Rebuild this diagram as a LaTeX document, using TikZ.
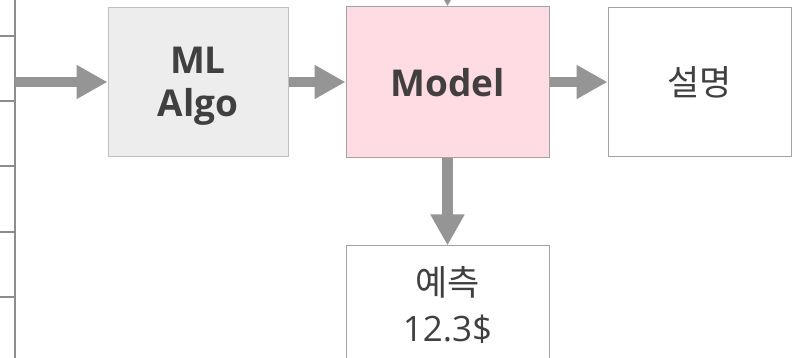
\documentclass[tikz,border=0pt]{standalone}
\usepackage{fontspec}
\setmainfont{Open Sans}
\newfontfamily\krfont{Noto Sans CJK KR}
\usetikzlibrary{arrows.meta}
\definecolor{inkgrey}{HTML}{404040}
\definecolor{flowgrey}{HTML}{959595}
\definecolor{algofill}{HTML}{EDEDED}
\definecolor{algoline}{HTML}{BFBFBF}
\definecolor{modelfill}{HTML}{FFDCE3}
\definecolor{boxline}{HTML}{A3A3A3}
\definecolor{gridline}{HTML}{8C8C8C}
\begin{document}
\begin{tikzpicture}[x=1pt,y=-1pt,
  box/.style={draw=boxline, line width=1pt, inner sep=0pt, text=inkgrey, align=center},
  flow/.style={draw=flowgrey, line width=10.5pt, -{Triangle[length=31pt,width=32pt]}},
  grid/.style={draw=gridline, line width=1.2pt}]
\useasboundingbox (0,0) rectangle (793,358);
\clip (0,0) rectangle (793,358);

% table edge on the left
\draw[grid] (15,0) -- (15,358);
\foreach \yy in {36,101,166,232,297}
  \draw[grid] (0,\yy) -- (15,\yy);

% pipeline boxes
\node[box, fill=algofill, draw=algoline, minimum width=180pt, minimum height=149pt,
      text depth=0pt, font=\bfseries\fontsize{37}{43}\selectfont] (algo) at (198,82) {ML\\Algo};
\node[box, fill=modelfill, minimum width=203pt, minimum height=151pt,
      font=\bfseries\fontsize{37}{43}\selectfont] (model) at (447.5,82.5) {Model};
\node[box, fill=white, minimum width=183pt, minimum height=149pt,
      font=\krfont\fontsize{35}{45}\selectfont] (expl) at (699.5,82) {설명};
\node[box, fill=white, minimum width=203pt, minimum height=116pt,
      text depth=0pt, font=\fontsize{35}{46}\selectfont] (pred) at (447.5,304) {{\krfont 예측}\\12.3\$};

% arrow ends outside the boxes
\coordinate (tbl) at (15,82);
\coordinate (feed) at (447.5,-60);

% flow arrows
\draw[flow] (tbl) -- (algo.west);
\draw[flow] (algo.east) -- (algo.east -| model.west);
\draw[flow] (model.east |- expl.west) -- (expl.west);
\draw[flow] (feed) -- (model.north);
\draw[flow] (model.south) -- (pred.north);
\end{tikzpicture}
\end{document}
